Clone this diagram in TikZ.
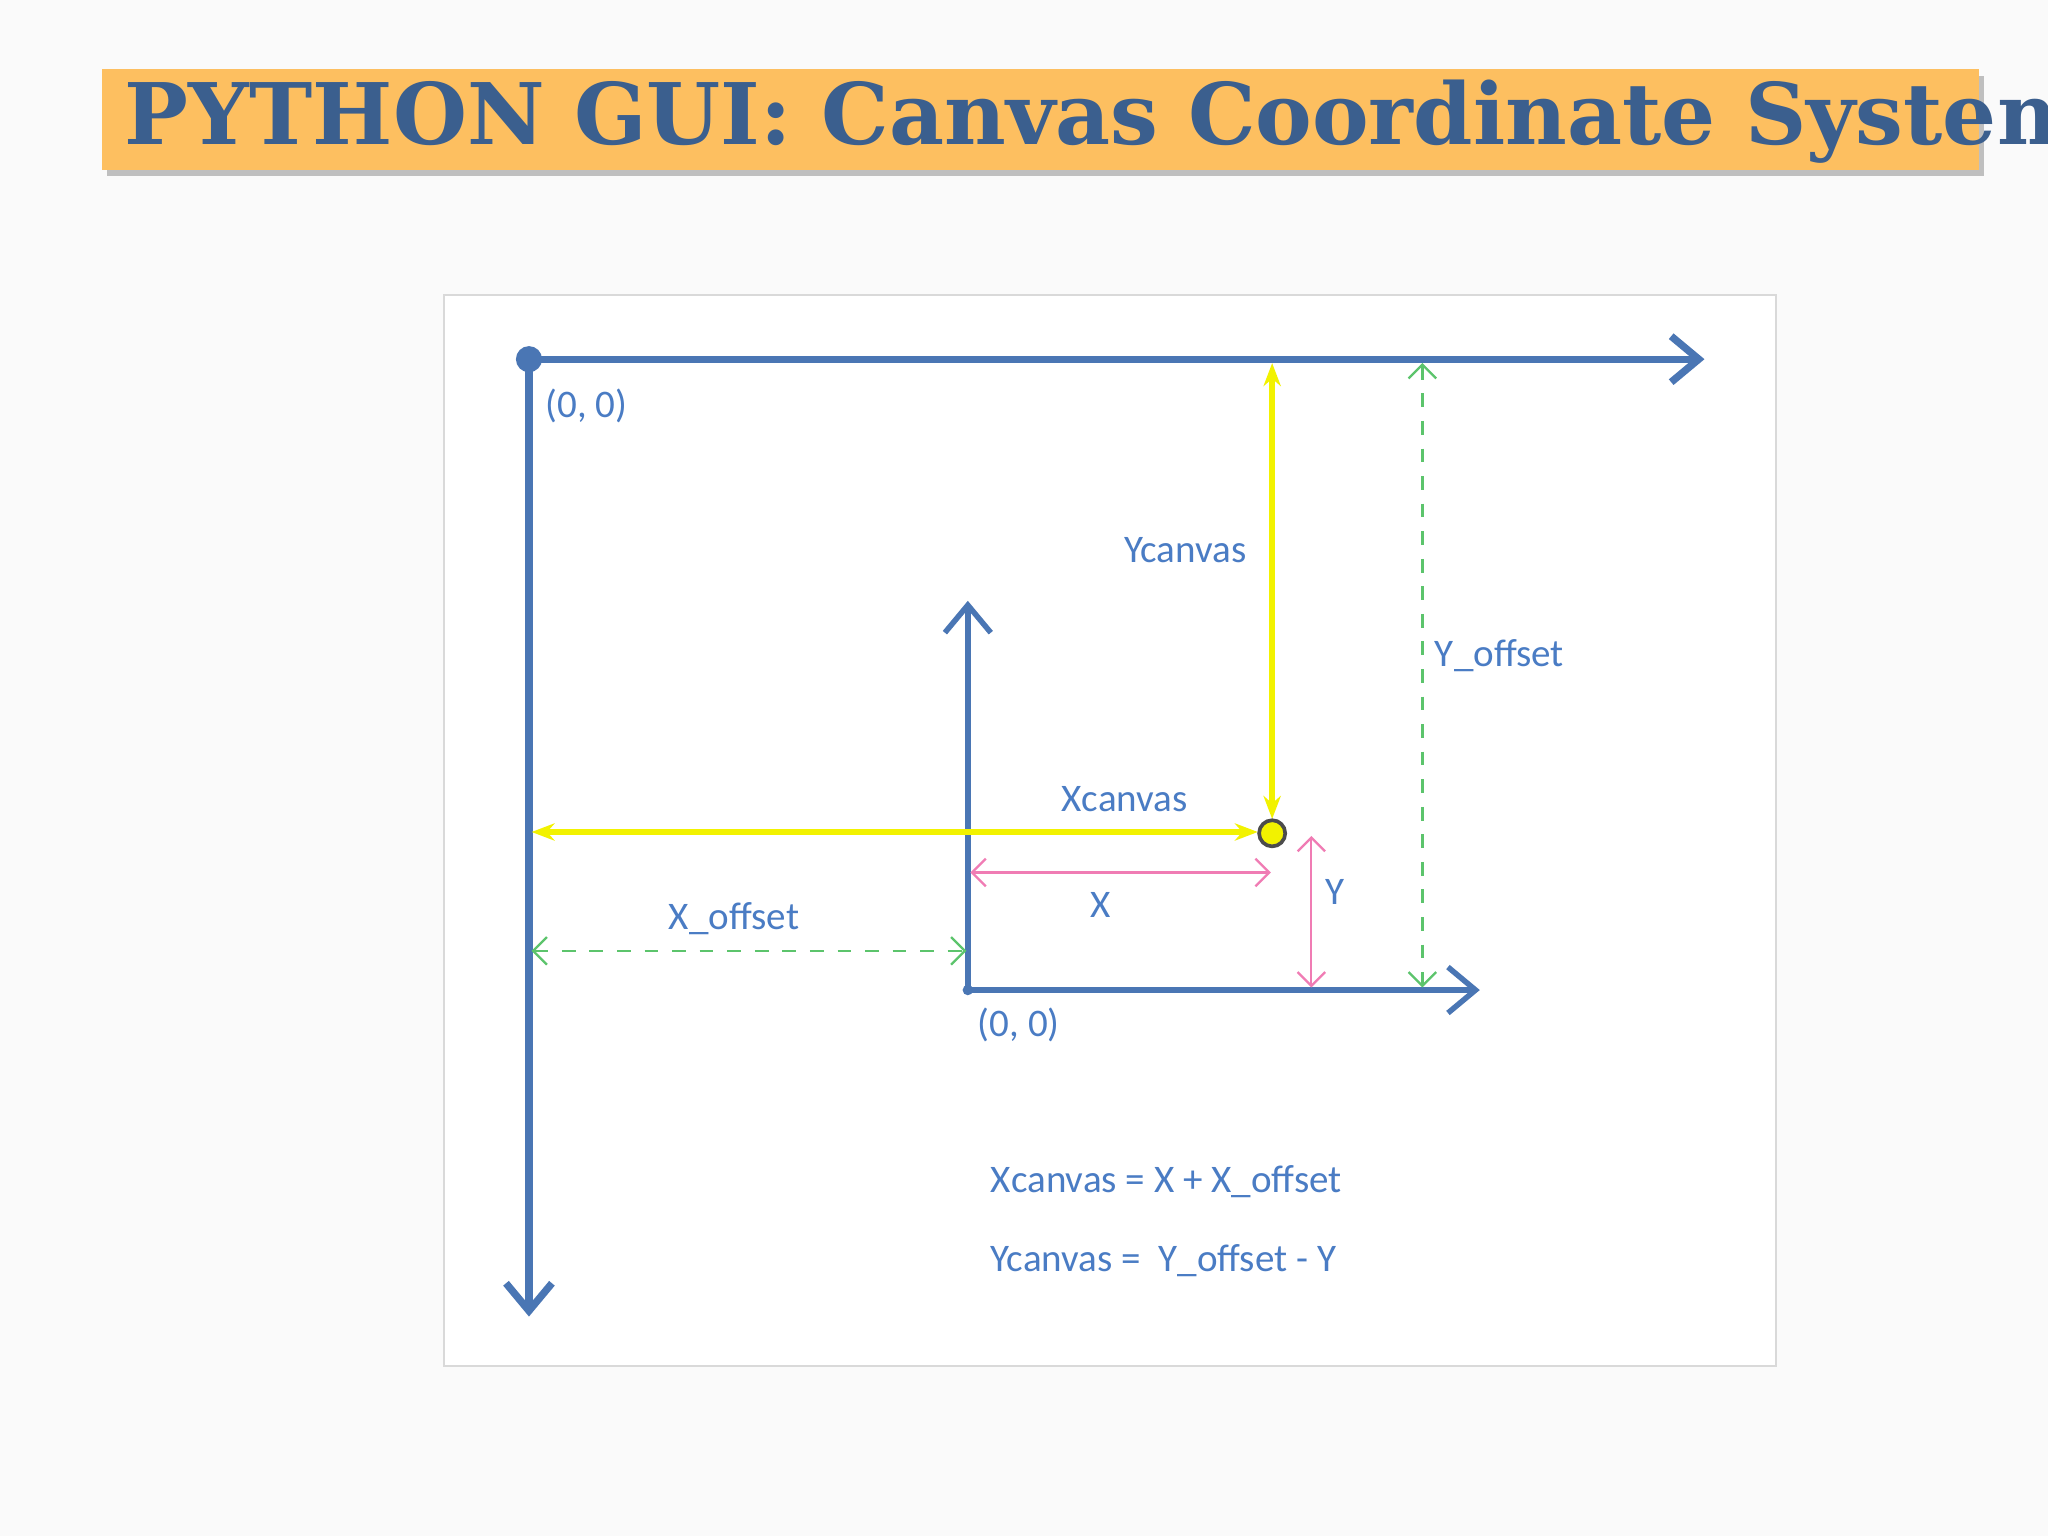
\documentclass[tikz,border=0pt]{standalone}
\usepackage{fontspec}
\setmainfont{Carlito}
\newfontfamily\titlefont{DejaVu Serif}
\usetikzlibrary{positioning,shadows,arrows.meta}
\definecolor{axisblue}{HTML}{4A76B4}
\definecolor{txtblue}{HTML}{4A7CC4}
\definecolor{titleblue}{HTML}{3B5F8E}
\definecolor{barorange}{HTML}{FDBF60}
\definecolor{canvyel}{HTML}{F2F200}
\definecolor{relpink}{HTML}{F07CB4}
\definecolor{offgreen}{HTML}{5CC46C}
\begin{document}
\begin{tikzpicture}[x=0.01cm,y=-0.01cm]
        \tikzstyle{lbl} = [text=txtblue,font=\fontsize{8.5}{10}\selectfont,inner sep=0pt]
        \tikzstyle{axis} = [axisblue,line width=1.6pt,-{Straight Barb[length=6pt,width=10pt]}]
        \tikzstyle{canv} = [canvyel,line width=1.2pt,{Stealth[length=5pt]}-{Stealth[length=5pt]}]
        \tikzstyle{rel} = [relpink,line width=0.5pt,{Straight Barb[length=3pt]}-{Straight Barb[length=3pt]}]
        \tikzstyle{off} = [offgreen,line width=0.5pt,dashed,{Straight Barb[length=3pt]}-{Straight Barb[length=3pt]}]
        \useasboundingbox (0,0) rectangle (1568,1176);
        \fill[black!2] (0,0) rectangle (1568,1176);

        % title bar
        \fill[black!25] (82,58) rectangle (1519,135);
        \fill[barorange] (78,53) rectangle (1515,130);
        \node[anchor=west,text=titleblue,font=\titlefont\bfseries\fontsize{18.5}{22}\selectfont,inner sep=0pt] (title) at (95,93) {PYTHON GUI: Canvas Coordinate System};

        % canvas frame
        \draw[black!15,fill=white] (340,226) rectangle (1360,1046);

        % window axes
        \coordinate (o1) at (405,275);
        \coordinate (xend1) at (1305,275);
        \coordinate (yend1) at (405,1008);
        \draw[axis] (o1) -- (xend1);
        \draw[axis] (o1) -- (yend1);
        \fill[axisblue] (o1) circle (10);
        \node[lbl,anchor=west] (o1lbl) at (417,311) {(0, 0)};

        % local axes
        \coordinate (o2) at (741,758);
        \coordinate (xend2) at (1133,758);
        \coordinate (yend2) at (741,460);
        \draw[axis,line width=1.2pt] (o2) -- (xend2);
        \draw[axis,line width=1.2pt] (o2) -- (yend2);
        \fill[axisblue] (o2) circle (4);
        \node[lbl,anchor=west] (o2lbl) at (748,785) {(0, 0)};

        % canvas distances
        \coordinate (ytop) at (974,278);
        \coordinate (pt) at (974,638);
        \coordinate (xleft) at (407,637);
        \draw[canv] (ytop) -- (974,627);
        \draw[canv] (xleft) -- (963,637);
        \draw[black!70,fill=canvyel,line width=0.8pt] (pt) circle (10);
        \node[lbl,anchor=east] (yc) at (955,421) {Ycanvas};
        \node[lbl] (xc) at (861,612) {Xcanvas};

        % local distances
        \draw[rel] (743,668) -- (973,668);
        \node[lbl] (xl) at (843,693) {X};
        \draw[rel] (1004,640) -- (1004,756);
        \node[lbl] (yl) at (1022,683) {Y};

        % offsets
        \draw[off] (407,728) -- (740,728);
        \node[lbl] (xo) at (562,703) {X\_offset};
        \draw[off] (1089,278) -- (1089,756);
        \node[lbl] (yo) at (1148,502) {Y\_offset};

        % formulas
        \node[lbl,anchor=west] (eq1) at (758,905) {Xcanvas = X + X\_offset};
        \node[lbl,anchor=west] (eq2) at (758,965) {Ycanvas =\ \ Y\_offset - Y};
      \end{tikzpicture}
\end{document}
